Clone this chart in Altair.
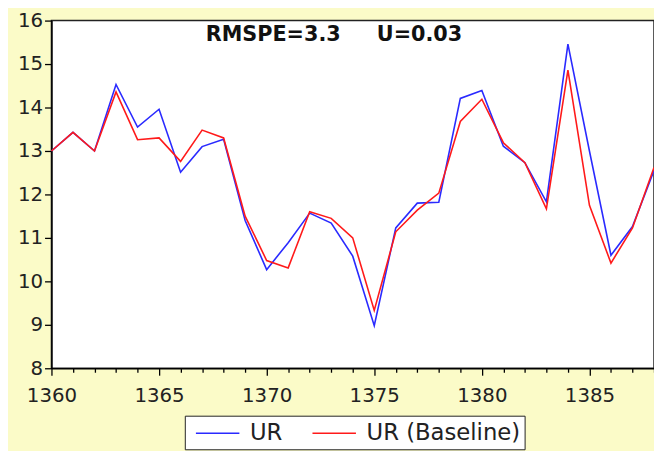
import altair as alt
import pandas as pd

years = list(range(1360, 1389))
ur = [13.0, 13.43, 13.0, 14.53, 13.55, 13.96, 12.51, 13.1, 13.27, 11.4,
      10.27, 10.89, 11.57, 11.34, 10.58, 8.98, 11.23, 11.8, 11.82, 14.21,
      14.39, 13.11, 12.73, 11.83, 15.46, 13.0, 10.6, 11.26, 12.55]
baseline = [13.0, 13.43, 13.0, 14.36, 13.26, 13.3, 12.76, 13.48, 13.3, 11.5,
            10.48, 10.31, 11.6, 11.45, 11.0, 9.33, 11.14, 11.64, 12.03, 13.68,
            14.19, 13.19, 12.73, 11.67, 14.86, 11.75, 10.42, 11.23, 12.62]
series_names = ["UR", "UR (Baseline)"]
series_colors = ["#2a2aff", "#ff1a1a"]
y_ticks = [8, 9, 10, 11, 12, 13, 14, 15, 16]
annotation = "RMSPE=3.3" + "\u00a0" * 5 + "U=0.03"

n = len(years)
df = pd.DataFrame({
    "year": years * 2,
    "value": ur + baseline,
    "series": [series_names[0]] * n + [series_names[1]] * n,
})

FONT = "DejaVu Sans"

x = alt.X(
    "year:Q",
    scale=alt.Scale(domain=[1360, 1388], nice=False, zero=False),
    axis=alt.Axis(
        values=years, format="d", title=None, grid=False,
        labelExpr="datum.value % 5 === 0 ? datum.label : ''",
        tickSize={"condition": {"test": "datum.value % 5 === 0", "value": 7}, "value": 4},
        labelPadding=11, labelFlush=False, labelOverlap=False,
    ),
)
y = alt.Y(
    "value:Q",
    scale=alt.Scale(domain=[8, 16], nice=False, zero=False),
    axis=alt.Axis(values=y_ticks, title=None, grid=False, tickSize=7, labelPadding=2),
)
color = alt.Color(
    "series:N",
    scale=alt.Scale(domain=series_names, range=series_colors),
    legend=alt.Legend(
        title=None, orient="none", legendX=135, legendY=400, direction="horizontal",
        strokeColor="#222222", fillColor="white", padding=4,
        symbolType="M-0.5,0h3.52", symbolSize=625, symbolStrokeWidth=1.5,
        labelFont=FONT, labelFontSize=23, labelColor="#222222",
        columnPadding=23, labelOffset=35,
    ),
)

base = alt.Chart(df).mark_line(strokeWidth=1.6).encode(x=x, y=y, color=color)
blue = base.transform_filter(alt.datum.series == series_names[0])
red = base.transform_filter(alt.datum.series == series_names[1])

text = alt.Chart(pd.DataFrame({"t": [annotation]})).mark_text(
    font=FONT, fontWeight="bold", fontSize=21, align="center", baseline="middle", color="#111111"
).encode(x=alt.value(286), y=alt.value(15), text="t:N")

chart = alt.layer(blue, red, text).properties(
    width=610, height=352,
    autosize=alt.AutoSizeParams(type="none"),
    padding={"left": 44, "top": 10, "right": 0, "bottom": 81},
    background="#fbfbc8",
).configure_view(
    fill="white", stroke="#222222", strokeWidth=1.5
).configure_axis(
    domainColor="black", domainWidth=1.5, tickColor="black", tickWidth=1.3,
    labelFont=FONT, labelFontSize=20, labelColor="#222222",
)

chart.save("out.html", embed_options={"renderer": "svg", "actions": False})
